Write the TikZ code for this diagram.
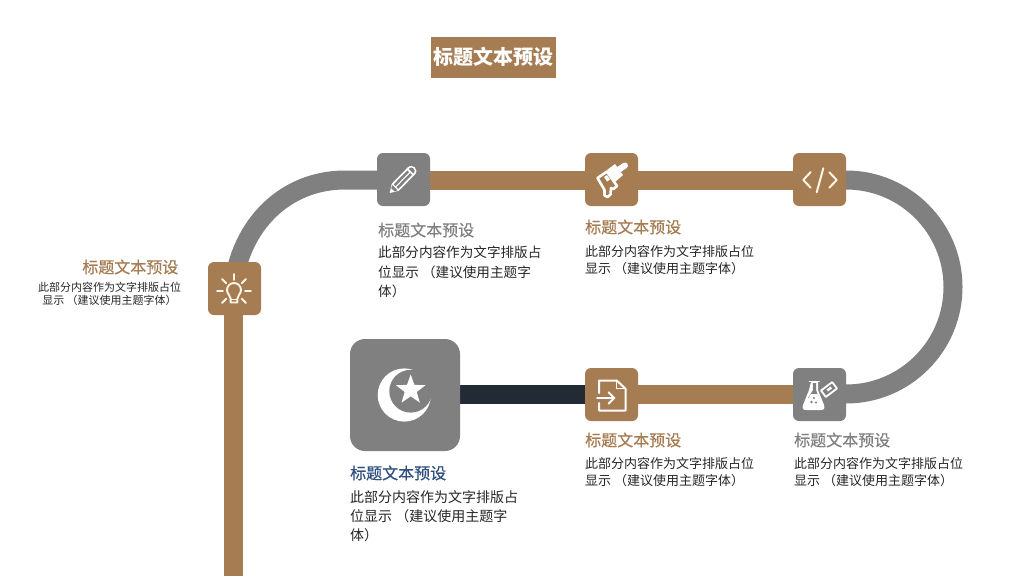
\documentclass[tikz,border=0pt]{standalone}
\usepackage{fontspec}
\setmainfont{Noto Sans CJK SC}
\newfontfamily\headfont[FakeBold=0.5]{Noto Sans CJK SC}
\usetikzlibrary{shapes.geometric}
\definecolor{brownc}{HTML}{A67C52}
\definecolor{greyc}{HTML}{808080}
\definecolor{darkc}{HTML}{222A35}
\definecolor{bluec}{HTML}{2F4F7F}
\definecolor{creamc}{HTML}{FFF6E8}
\tikzset{
  track/.style={line width=19pt,draw=#1},
  iconbox/.style={draw=none,fill=#1,rounded corners=6pt,minimum width=53pt,minimum height=53pt,inner sep=0pt},
  bigbox/.style={draw=none,fill=greyc,rounded corners=15pt,minimum width=110pt,minimum height=112pt,inner sep=0pt},
  heading/.style={inner sep=0pt,text=#1,font=\headfont\fontsize{16}{18}\selectfont},
  bodytext/.style={inner sep=0pt,text=black!85,align=left,font=\fontsize{13}{17}\selectfont},
  iconline/.style={draw=white,line width=2pt,line cap=round,line join=round,fill=none},
}
\begin{document}
\begin{tikzpicture}[x=1pt,y=-1pt]
\useasboundingbox (0,0) rectangle (1024,576);
\fill[white] (0,0) rectangle (1024,576);

% title
\node[fill=brownc,text=white,minimum width=125pt,minimum height=41pt,inner sep=0pt,font=\fontsize{20}{22}\selectfont\bfseries] (title) at (493.5,57) {标题文本预设};

% node anchors for the track
\coordinate (bottom) at (233,576);
\coordinate (bulbc) at (233,288);
\coordinate (penc) at (403,180);
\coordinate (brushc) at (612,180);
\coordinate (codec) at (820,180);
\coordinate (flaskc) at (820,394);
\coordinate (docc) at (612,394);
\coordinate (moonc) at (405,394);

% tracks
\draw[track=brownc] (bulbc) -- (bottom);
\draw[track=greyc] (bulbc) .. controls (240,225) and (285,180) .. (345,180) -- (penc);
\draw[track=brownc] (penc) -- (brushc);
\draw[track=brownc] (brushc) -- (codec);
\draw[track=greyc] (codec) -- (846,180) arc[start angle=-90,end angle=90,radius=107pt,y radius=-107pt] -- (flaskc);
\draw[track=brownc] (flaskc) -- (docc);
\draw[track=darkc] (docc) -- (moonc);

% boxes
\node[iconbox=brownc] (bulb) at (234.5,288.5) {};
\node[iconbox=greyc] (pen) at (403.5,179.5) {};
\node[iconbox=brownc] (brush) at (611.5,179.5) {};
\node[iconbox=brownc] (code) at (819.5,179.5) {};
\node[iconbox=greyc] (flask) at (819.5,394.5) {};
\node[iconbox=brownc] (doc) at (611.5,394.5) {};
\node[bigbox] (moon) at (405,395) {};

% bulb icon
\begin{scope}[shift={(234,291)}]
  \draw[draw=creamc,line width=1.9pt,line cap=round,line join=round]
    (-3.4,7.5) .. controls (-3.6,4) and (-7,3) .. (-7,-1) arc[start angle=180,end angle=360,radius=7pt,y radius=-7pt] .. controls (7,3) and (3.6,4) .. (3.4,7.5) -- (3.4,11.5) -- (-3.4,11.5) -- cycle;
  \draw[draw=creamc,line width=1.4pt] (-3.4,8.5) -- (3.4,8.5);
  \foreach \a/\r in {0/11,180/11,-90/11,-45/11,-135/11,45/11,135/11}
    \draw[draw=creamc,line width=1.9pt,line cap=round] (\a:\r+0) -- (\a:\r+6);
\end{scope}

% pencil icon
\begin{scope}[shift={(389.7,193)},x={(0.7pt,0.714pt)},y={(0.714pt,-0.7pt)}]
  \fill[white] (0,0) -- (8,-5) -- (31,-5) .. controls (37.5,-5) and (37.5,5) .. (31,5) -- (8,5) -- cycle;
  \fill[greyc] (9,-3.2) -- (28.5,-3.2) -- (28.5,-0.7) -- (9,-0.7) -- cycle;
  \fill[greyc] (9,0.7) -- (28.5,0.7) -- (28.5,3.2) -- (9,3.2) -- cycle;
  \fill[greyc] (30.5,-3.2) -- (31.5,-3.2) .. controls (35,-3.2) and (35,3.2) .. (31.5,3.2) -- (30.5,3.2) -- cycle;
  \fill[greyc] (4.5,-2.4) -- (7.5,-3.6) -- (7.5,3.6) -- (4.5,2.4) -- cycle;
\end{scope}

% brush icon
\draw[white,line width=6pt,line cap=round] (625,165.5) -- (616,171.5);
\fill[white] (607,170) -- (615,164) -- (623,175) -- (615,182) -- cycle;
\filldraw[draw=white,fill=brownc,line width=2.6pt,line join=round] (597.5,178) -- (607,171.5) -- (617,186) -- (613.5,189) -- (611,188) -- (610.5,194.5) -- (607.5,197) -- (604.5,195.5) -- (604.5,190) -- (602.5,186.5) -- cycle;
\fill[white] (604,177) -- (607,175) -- (610,179.5) -- (607,181.5) -- cycle;

% code icon
\draw[iconline,draw=creamc] (810.7,172) -- (803.3,180) -- (810.7,187.7);
\draw[iconline,draw=creamc] (823.3,168.3) -- (816.7,192.3);
\draw[iconline,draw=creamc] (829.3,172.3) -- (836.7,180) -- (829.3,187.7);

% flask icon
\draw[white,line width=1.8pt,line cap=round] (809.5,381.5) -- (819,381.5);
\fill[white] (811,382) -- (818,382) -- (818,390) -- (824,405) .. controls (825,408.5) and (824,410) .. (821,410) -- (806,410) .. controls (803,410) and (802,408.5) .. (803,405) -- (809,390) -- cycle;
\fill[greyc] (812.8,383) -- (816.2,383) -- (816.2,390.5) -- (819,398) -- (808,398) -- (812.8,390.5) -- cycle;
\fill[white] (811,394) -- (817.5,394) -- (820.5,401) -- (807,401) -- cycle;
\fill[greyc] (811.5,402) circle[radius=1.4pt] (816,402.5) circle[radius=1.2pt] (814,398) circle[radius=1.2pt];
\draw[white,line width=1.8pt,line join=round] (821,390.5) -- (832.2,382.1) -- (837,388.5) -- (825.8,396.9) -- cycle;
\fill[white] (826.5,389.5) -- (830.5,386.5) -- (832,388.5) -- (828,391.5) -- cycle;

% document icon
\draw[iconline] (599,393) -- (599,380.5) -- (616.7,380.5) -- (625.5,388.7) -- (625.5,410.5) -- (599,410.5) -- (599,403);
\draw[iconline,line width=1.5pt] (616.7,380.5) -- (616.7,388.7) -- (625.5,388.7);
\draw[iconline] (597,398) -- (614,398);
\draw[iconline] (608.5,392.3) -- (614.3,398) -- (608.5,403.7);

% moon and star icon
\fill[white] (404.3,395) circle[radius=26.6pt];
\fill[greyc] (410.7,391.2) circle[radius=21.4pt];
\node[star,star points=5,star point ratio=2.45,fill=white,draw=none,minimum size=31pt,inner sep=0pt] (starmark) at (410.7,390) {};

% texts
\node[heading=brownc,anchor=east] (t0) at (178.5,267) {标题文本预设};
\node[inner sep=0pt,align=center,text=black!85,font=\fontsize{11}{13}\selectfont,anchor=north] (b0) at (109.5,282) {此部分内容作为文字排版占位\\显示 （建议使用主题字体）};

\node[heading=greyc,anchor=west] (t1) at (378,230) {标题文本预设};
\node[bodytext,font=\fontsize{13.6}{19.5}\selectfont,anchor=north west] (b1) at (378,246) {此部分内容作为文字排版占\\位显示 （建议使用主题字\\体）};

\node[heading=brownc,anchor=west] (t2) at (585,227) {标题文本预设};
\node[bodytext,anchor=north west] (b2) at (585,245) {此部分内容作为文字排版占位\\显示 （建议使用主题字体）};

\node[heading=brownc,anchor=west] (t3) at (585,440) {标题文本预设};
\node[bodytext,anchor=north west] (b3) at (585,457.5) {此部分内容作为文字排版占位\\显示 （建议使用主题字体）};

\node[heading=greyc,anchor=west] (t4) at (794,440) {标题文本预设};
\node[bodytext,anchor=north west] (b4) at (794,457.5) {此部分内容作为文字排版占位\\显示 （建议使用主题字体）};

\node[heading=bluec,anchor=west] (t5) at (350,473) {标题文本预设};
\node[bodytext,font=\fontsize{14}{19}\selectfont,anchor=north west] (b5) at (350,490) {此部分内容作为文字排版占\\位显示 （建议使用主题字\\体）};
\end{tikzpicture}
\end{document}
